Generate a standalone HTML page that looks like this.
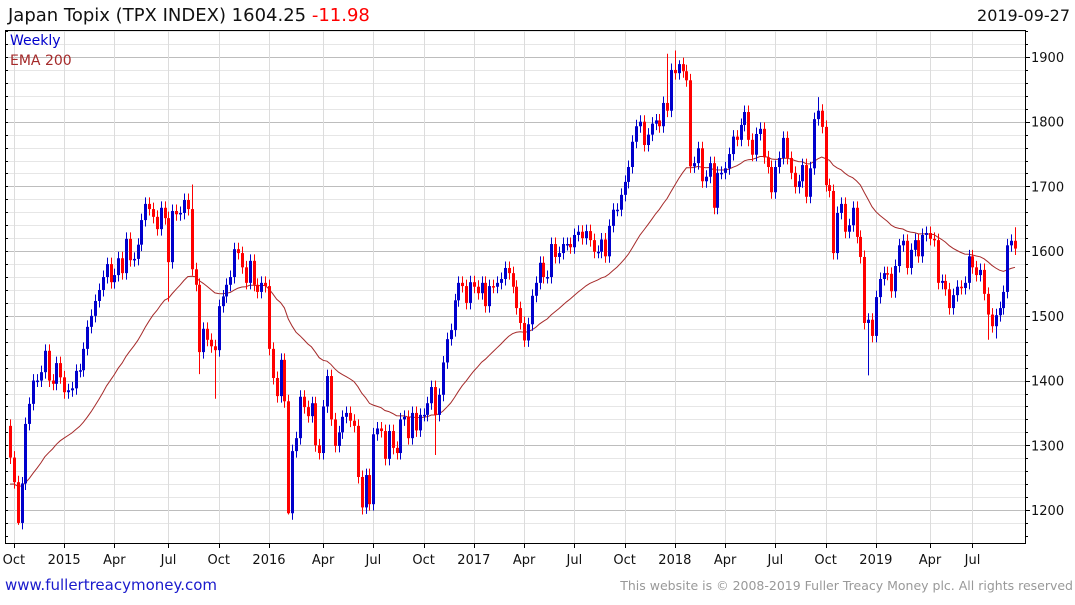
<!DOCTYPE html>
<html><head><meta charset="utf-8">
<style>
html,body{margin:0;padding:0;background:#fff;}
body{width:1075px;height:600px;overflow:hidden;font-family:"Liberation Sans",sans-serif;}
svg text{font-family:"DejaVu Sans","Liberation Sans",sans-serif;}
</style></head>
<body>
<svg id="chart" width="1075" height="600" xmlns="http://www.w3.org/2000/svg">
  <text x="8" y="21" font-size="18" fill="#111">Japan Topix (TPX INDEX) 1604.25 <tspan fill="#ff0000">-11.98</tspan></text>
  <text x="1070" y="21" font-size="16" fill="#111" text-anchor="end">2019-09-27</text>
  <g id="grid"></g>
  <g id="ema"></g>
  <g id="candles"></g>
  <rect x="5.5" y="30.5" width="1020" height="513" fill="none" stroke="#000" stroke-width="1"/>
  <g id="axes"></g>
  <text x="10" y="45" font-size="14" fill="#0000cc">Weekly</text>
  <text x="10" y="65" font-size="14" fill="#a52a2a">EMA 200</text>
  <text x="5" y="590" font-size="15" fill="#1a1acc">www.fullertreacymoney.com</text>
  <text x="1073" y="590" font-size="12.5" fill="#999" text-anchor="end">This website is © 2008-2019 Fuller Treacy Money plc. All rights reserved</text>
</svg>
<script>
const closes = [1281,1243,1180,1241,1333,1364,1400,1400,1413,1446,
1400,1395,1427,1405,1382,1385,1388,1415,1416,1449,
1483,1500,1523,1540,1560,1580,1552,1563,1589,1566,
1619,1586,1588,1610,1648,1673,1665,1653,1634,1667,
1651,1583,1662,1657,1659,1679,1665,1572,1548,1444,
1480,1463,1453,1447,1515,1530,1548,1560,1603,1597,
1575,1551,1585,1548,1537,1551,1546,1449,1404,1376,
1432,1368,1195,1291,1311,1375,1359,1345,1365,1300,
1288,1360,1407,1340,1299,1320,1344,1350,1338,1330,
1251,1204,1254,1209,1317,1326,1322,1279,1322,1296,
1288,1340,1344,1311,1350,1323,1347,1347,1365,1390,
1347,1378,1428,1464,1478,1524,1551,1546,1520,1552,
1545,1535,1551,1515,1546,1545,1551,1557,1574,1566,
1545,1512,1489,1462,1487,1531,1551,1582,1560,1560,
1611,1591,1597,1611,1611,1606,1625,1630,1620,1631,
1617,1599,1599,1618,1592,1639,1664,1664,1687,1707,
1730,1769,1793,1800,1764,1780,1797,1802,1793,1829,
1817,1880,1875,1889,1878,1864,1731,1736,1759,1708,
1715,1736,1667,1721,1721,1728,1750,1777,1772,1795,
1815,1772,1749,1781,1789,1745,1730,1691,1730,1744,
1775,1744,1721,1699,1708,1733,1684,1728,1804,1817,
1792,1702,1693,1597,1659,1673,1630,1640,1667,1622,
1591,1489,1494,1469,1529,1557,1566,1565,1538,1577,
1609,1616,1574,1602,1617,1592,1625,1628,1619,1617,
1551,1554,1541,1512,1532,1545,1543,1551,1592,1575,
1563,1571,1534,1502,1484,1501,1512,1537,1609,1616,
1604];
const firstOpen = 1330;
const highIdx = [47,170,172,173,209,260];
const highVal = [1703,1905,1910,1895,1838,1637];
const lowIdx = [2,41,49,53,72,91,110,222,253,255];
const lowVal = [1177,1522,1410,1372,1193,1193,1285,1408,1463,1465];
const yTicks = [1200,1300,1400,1500,1600,1700,1800,1900];
const xLabels = ["Oct","2015","Apr","Jul","Oct","2016","Apr","Jul","Oct","2017","Apr","Jul","Oct","2018","Apr","Jul","Oct","2019","Apr","Jul"];
const xLabelWeek = [1,14,27,41,54,67,81,94,107,120,133,146,159,172,185,198,211,224,238,249];
const emaStart = 1240;
const emaPeriod = 36;

const NS = "http://www.w3.org/2000/svg";
const X0 = 10, X1 = 1015, Y0 = 510, Y1 = 57;
function xScale(i){ return X0 + i*(X1-X0)/(closes.length-1); }
function yScale(v){ return Y0 + (v-1200)*(Y1-Y0)/(1900-1200); }
function mk(tag, attrs, parent){ const e=document.createElementNS(NS,tag); for(const k in attrs) e.setAttribute(k,attrs[k]); parent.appendChild(e); return e; }

const grid = document.getElementById('grid');
for(let v=1180; v<=1960; v+=20){
  const y=Math.round(yScale(v))+0.5;
  if(y<31||y>543) continue;
  const major = v%100===0;
  const l = mk('line',{x1:6,x2:1025,y1:y,y2:y,stroke:major?'#bdbdbd':'#e6e6e6','stroke-width':1},grid);
  
  
}
xLabelWeek.forEach((w,i)=>{
  const x=Math.round(xScale(w))+0.5;
  const l = mk('line',{x1:x,x2:x,y1:31,y2:543,stroke:'#dcdcdc','stroke-width':1},grid);
  
  
});

const axes = document.getElementById('axes');
yTicks.forEach(v=>{
  const y=yScale(v);
  const t = mk('text',{x:1031,y:y+5,'font-size':13,fill:'#111'},axes);
  t.textContent=v;
  
  
});
for(let v=1160; v<=1960; v+=20){
  const y=Math.round(yScale(v))+0.5;
  if(y<31||y>543) continue;
  const tk = mk('line',{x1:1025,x2:v%100===0?1030:1028,y1:y,y2:y,stroke:'#000'},axes);
  
  
  const tl = mk('line',{x1:6,x2:8,y1:y,y2:y,stroke:'#000'},axes);
  
  
}
xLabels.forEach((lab,i)=>{
  const x=xScale(xLabelWeek[i]);
  const tk = mk('line',{x1:Math.round(x)+0.5,x2:Math.round(x)+0.5,y1:543,y2:548,stroke:'#000'},axes);
  
  
  const t = mk('text',{x:x,y:564,'font-size':13,fill:'#111','text-anchor':'middle'},axes);
  t.textContent=lab;
  
  
});

const candles = document.getElementById('candles');
closes.forEach((c,i)=>{
  const o = i===0 ? firstOpen : closes[i-1];
  const up = c>=o;
  const col = up ? '#0000cc' : '#ff0000';
  let hi = Math.max(o,c)+10, lo = Math.min(o,c)-10;
  const hk = highIdx.indexOf(i); if(hk>=0) hi = highVal[hk];
  const lk = lowIdx.indexOf(i); if(lk>=0) lo = lowVal[lk];
  const x = Math.round(xScale(i));
  const g = mk('g',{},candles);
  
  
  mk('line',{x1:x+0.5,x2:x+0.5,y1:yScale(hi),y2:yScale(lo),stroke:col,'stroke-width':1},g);
  const yt = yScale(Math.max(o,c)), yb = yScale(Math.min(o,c));
  mk('rect',{x:x-1,y:yt,width:3,height:Math.max(1.5,yb-yt),fill:col},g);
});

const emaG = document.getElementById('ema');
const alpha = 2/(emaPeriod+1);
let e = emaStart; const pts=[];
closes.forEach((c,i)=>{ if(i>0) e = e + alpha*(c-e); pts.push(xScale(i).toFixed(1)+','+yScale(e).toFixed(1)); });
const pl = mk('polyline',{points:pts.join(' '),fill:'none',stroke:'#a52a2a','stroke-width':1},emaG);


</script>
</body></html>
